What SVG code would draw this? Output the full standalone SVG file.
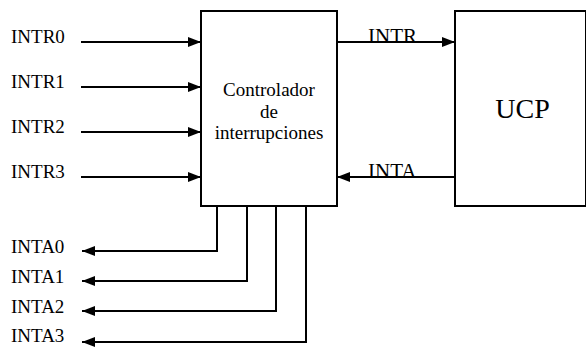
<svg xmlns="http://www.w3.org/2000/svg" width="586" height="349" viewBox="0 0 586 349">
  <style>
    .box { fill: #fff; stroke: #000; stroke-width: 2; }
    .wire { fill: none; stroke: #000; stroke-width: 2; }
    .mid { text-anchor: middle; }
  </style>
  <defs>
    <marker id="arrow" viewBox="0 0 13 10" refX="13" refY="5" markerWidth="13" markerHeight="10" markerUnits="userSpaceOnUse" orient="auto">
      <path d="M0,0 L13,5 L0,10 Z" fill="#000"/>
    </marker>
  </defs>

  <g id="controlador">
    <rect class="box" x="201" y="11" width="136" height="195"/>
    <g font-family="'Liberation Serif', 'DejaVu Serif', serif" font-size="19" fill="#000">
      <text class="mid" x="269" y="96">Controlador</text>
      <text class="mid" x="269" y="117.5">de</text>
      <text class="mid" x="269" y="139">interrupciones</text>
    </g>
  </g>

  <g id="ucp">
    <rect class="box" x="455" y="11" width="131" height="195"/>
    <text class="mid" x="522.5" y="118" font-family="'Liberation Serif', 'DejaVu Serif', serif" font-size="28" fill="#000">UCP</text>
  </g>

  <g id="connectors">
    <line class="wire" x1="81" y1="42" x2="201" y2="42" marker-end="url(#arrow)"/>
    <line class="wire" x1="81" y1="87" x2="201" y2="87" marker-end="url(#arrow)"/>
    <line class="wire" x1="81" y1="132" x2="201" y2="132" marker-end="url(#arrow)"/>
    <line class="wire" x1="81" y1="177" x2="201" y2="177" marker-end="url(#arrow)"/>
    <line class="wire" x1="337" y1="42" x2="455" y2="42" marker-end="url(#arrow)"/>
    <line class="wire" x1="455" y1="177" x2="337" y2="177" marker-end="url(#arrow)"/>
    <polyline class="wire" points="217,206 217,251 82,251" marker-end="url(#arrow)"/>
    <polyline class="wire" points="247,206 247,281 82,281" marker-end="url(#arrow)"/>
    <polyline class="wire" points="276,206 276,311 82,311" marker-end="url(#arrow)"/>
    <polyline class="wire" points="306,206 306,342 82,342" marker-end="url(#arrow)"/>
  </g>

  <g id="labels" font-family="'Liberation Serif', 'DejaVu Serif', serif" font-size="19" fill="#000">
    <text x="11" y="43">INTR0</text>
    <text x="11" y="88">INTR1</text>
    <text x="11" y="133">INTR2</text>
    <text x="11" y="178">INTR3</text>
    <text x="11" y="253">INTA0</text>
    <text x="11" y="283">INTA1</text>
    <text x="11" y="313">INTA2</text>
    <text x="11" y="342">INTA3</text>
    <text x="368" y="43" font-size="21">INTR</text>
    <text x="368" y="178" font-size="21">INTA</text>
  </g>
</svg>
